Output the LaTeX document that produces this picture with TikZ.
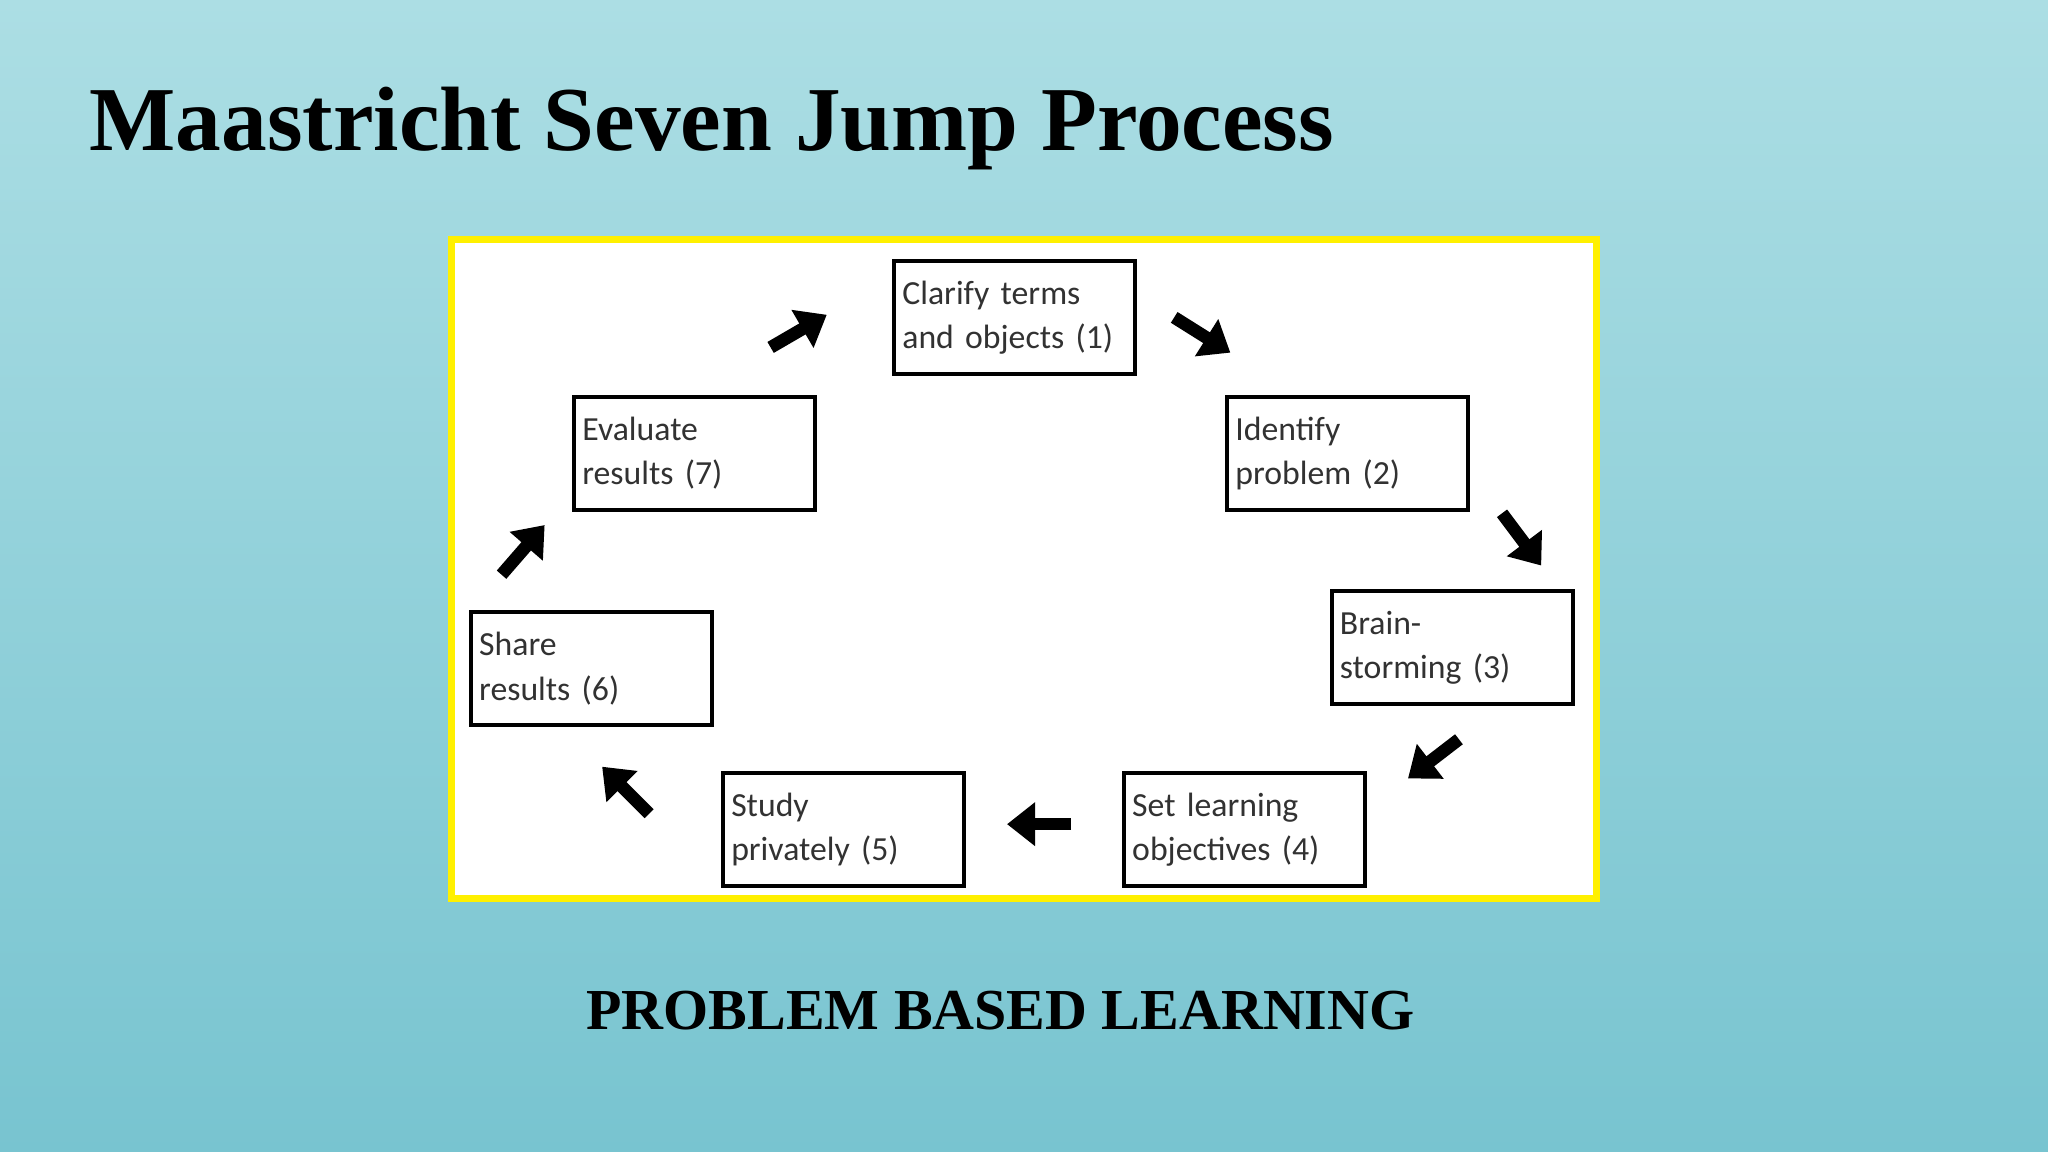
\documentclass[tikz,border=0pt]{standalone}
\usepackage{fontspec}
\setmainfont{Liberation Serif}
\newfontfamily\boxfont{Carlito}
\usetikzlibrary{arrows.meta}
\definecolor{bgtop}{RGB}{172,222,228}
\definecolor{bgbot}{RGB}{120,196,208}
\definecolor{boxtext}{RGB}{50,50,50}
\definecolor{frameyel}{RGB}{255,240,0}
\begin{document}
\begin{tikzpicture}[x=0.01306cm,y=-0.01306cm,
  stepbox/.style={draw=black,line width=1.1pt,minimum width=2.41cm,minimum height=1.13cm,
    text width=2.25cm,align=left,font=\boxfont\fontsize{9.6}{12.6}\selectfont,text=boxtext,inner sep=0pt},
  blk/.style={line width=3.6pt,-{Triangle[length=8pt,width=12pt]}}]
\useasboundingbox (0,0) rectangle (1568,882);
\shade[top color=bgtop,bottom color=bgbot] (0,0) rectangle (1568,882);
\node[anchor=base west,font=\bfseries\fontsize{26}{30}\selectfont,inner sep=0] (title) at (68,115) {Maastricht Seven Jump Process};
\draw[frameyel,line width=2pt,fill=white] (346,183) rectangle (1222,688);
\node[stepbox] (b1) at (777,243) {Clarify terms\\and objects (1)};
\node[stepbox] (b2) at (1032,347) {Identify\\problem (2)};
\node[stepbox] (b3) at (1112,496) {Brain-\\storming (3)};
\node[stepbox] (b4) at (953,635) {Set learning\\objectives (4)};
\node[stepbox] (b5) at (646,635) {Study\\privately (5)};
\node[stepbox] (b6) at (453,512) {Share\\results (6)};
\node[stepbox] (b7) at (532,347) {Evaluate\\results (7)};
\coordinate (a1s) at (899,243); \coordinate (a1e) at (942,270);
\coordinate (a2s) at (1150,393); \coordinate (a2e) at (1180,433);
\coordinate (a3s) at (1117,566); \coordinate (a3e) at (1078,596);
\coordinate (a4s) at (820,631); \coordinate (a4e) at (771,631);
\coordinate (a5s) at (497,623); \coordinate (a5e) at (461,587);
\coordinate (a6s) at (384,440); \coordinate (a6e) at (417,402);
\coordinate (a7s) at (590,266); \coordinate (a7e) at (633,241);
\foreach \i in {1,...,7} \draw[blk] (a\i s) -- (a\i e);
\node[anchor=base,font=\bfseries\fontsize{16.5}{20}\selectfont,inner sep=0] (sub) at (766,788) {PROBLEM BASED LEARNING};
\end{tikzpicture}
\end{document}
